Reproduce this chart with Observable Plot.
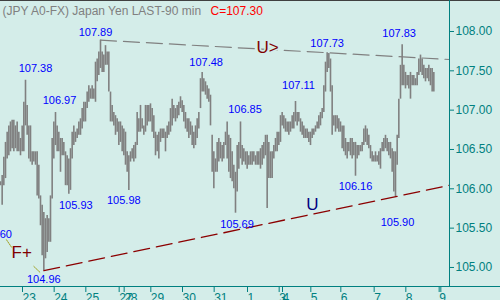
<!DOCTYPE html>
<html><head><meta charset="utf-8">
<script src="https://cdn.jsdelivr.net/npm/d3@7"></script>
<script src="https://cdn.jsdelivr.net/npm/@observablehq/plot@0.6"></script>
<style>body{margin:0;background:#d4ede9;overflow:hidden}</style>
</head><body><div id="chart"></div>
<script>
// ---- data (90-min bars, high / low) ----
const highs = [
106.09,106.17,106.40,106.59,106.72,106.80,106.85,106.87,106.87,106.80,
106.85,106.72,106.64,106.80,107.10,107.38,107.06,106.80,106.80,106.47,
106.47,106.47,106.47,106.30,105.91,105.79,105.70,105.62,105.66,105.62,
105.91,106.64,106.85,106.97,106.80,106.72,106.64,106.64,106.59,106.47,
106.42,106.38,106.51,106.72,106.80,106.72,106.76,106.85,106.89,107.02,
107.10,107.10,107.23,107.31,107.27,107.31,107.27,107.61,107.65,107.74,
107.89,107.74,107.70,107.82,107.74,107.74,107.23,107.06,106.97,106.93,
106.89,106.85,106.85,106.80,106.76,106.72,106.47,106.42,106.47,106.51,
106.55,106.59,106.97,106.89,107.06,106.89,106.80,107.06,107.06,107.06,
107.08,107.02,106.93,106.72,106.68,106.72,106.76,106.76,106.76,106.72,
106.80,106.85,107.02,107.14,107.06,107.02,107.06,107.10,107.17,107.12,
107.06,106.97,106.89,106.89,106.85,106.80,106.72,106.80,106.89,106.97,
107.40,107.48,107.40,107.36,107.31,107.27,107.19,106.68,106.47,106.38,
106.59,106.64,106.59,106.55,106.59,
106.72,106.85,106.68,106.64,106.47,106.30,106.21,106.55,106.59,106.85,
106.55,106.51,106.47,106.47,106.42,106.47,106.47,106.47,106.42,106.47,
106.47,106.51,106.55,106.59,106.68,106.68,106.59,106.47,106.47,106.55,
106.64,106.72,106.72,106.93,106.97,106.93,106.89,106.85,106.85,106.85,
106.93,106.97,107.11,106.97,106.97,106.89,106.85,106.80,106.76,106.76,
106.72,106.72,106.76,106.76,106.80,106.85,106.93,106.97,107.02,107.31,
107.61,107.73,107.72,107.65,107.31,106.93,106.93,106.93,106.89,106.85,
106.80,106.80,106.64,106.59,106.59,106.64,106.64,106.59,106.59,106.55,
106.55,106.55,106.59,106.76,106.80,106.76,106.68,106.55,106.47,106.42,
106.47,106.42,106.47,106.51,106.59,106.64,106.68,106.64,106.59,106.59,
106.51,106.47,106.47,106.68,107.14,107.57,107.83,107.57,107.48,107.44,
107.44,107.48,107.44,107.44,107.40,107.48,107.65,107.70,107.65,107.57,
107.53,107.53,107.57,107.53,107.53,107.48
];
const lows = [
106.04,105.79,106.04,106.13,106.38,106.42,106.47,106.51,106.47,106.51,
106.47,106.47,106.42,106.47,106.47,106.80,106.68,106.38,106.34,106.30,
106.34,106.30,105.91,105.87,105.53,105.15,104.96,105.11,105.19,105.32,
105.32,105.87,106.38,106.55,106.47,106.47,106.21,106.42,106.42,106.04,
106.04,105.93,105.98,106.38,106.55,106.59,106.64,106.68,106.68,106.76,
106.85,106.85,107.02,107.10,107.14,107.14,107.14,107.10,107.36,107.44,
107.53,107.48,107.48,107.57,107.57,107.23,106.85,106.85,106.80,106.68,
106.72,106.55,106.59,106.47,106.42,106.30,106.21,105.98,106.34,106.38,
106.34,106.38,106.55,106.72,106.72,106.76,106.68,106.72,106.80,106.85,
106.85,106.72,106.64,106.42,106.47,106.38,106.59,106.64,106.64,106.47,
106.64,106.68,106.72,106.80,106.89,106.85,106.89,106.93,107.02,106.97,
106.85,106.76,106.72,106.64,106.68,106.55,106.51,106.55,106.64,106.76,
107.02,107.23,107.23,107.19,107.14,107.10,106.80,106.21,106.00,106.21,
106.21,106.34,106.38,106.34,106.38,
106.55,106.38,106.21,106.13,106.09,106.00,105.69,105.96,106.25,106.38,
106.30,106.34,106.30,106.25,106.30,106.30,106.30,106.34,106.30,106.30,
106.30,106.25,106.30,106.38,106.42,105.75,106.13,106.13,106.13,106.38,
106.47,106.47,106.55,106.59,106.80,106.76,106.72,106.72,106.68,106.72,
106.76,106.76,106.85,106.80,106.85,106.72,106.68,106.64,106.64,106.64,
106.59,106.55,106.64,106.68,106.72,106.76,106.76,106.80,106.89,106.97,
107.23,107.48,107.53,107.23,106.68,106.80,106.72,106.76,106.72,106.72,
106.51,106.47,106.42,106.38,106.47,106.42,106.38,106.42,106.16,106.38,
106.42,106.47,106.47,106.55,106.59,106.55,106.51,106.38,106.34,106.34,
106.34,106.34,106.30,106.25,106.47,106.47,106.51,106.47,106.42,106.38,
106.21,105.96,105.90,106.30,106.64,107.14,107.31,107.31,107.27,107.31,
107.27,107.14,107.31,107.31,107.31,107.31,107.44,107.48,107.44,107.40,
107.36,107.40,107.36,107.31,107.23,107.23
];
const lastClose = 107.30;
const titleText = "(JPY A0-FX) Japan Yen LAST-90 min";
const dayTickBars   = [12, 31, 50, 70, 73, 89, 108, 127, 147, 166, 168, 185, 203, 223, 242, 262, 263];
const dayTickLabels = ["23","24","25","27","28","29","30","31","1","3","4","5","6","7","8","9",""];
const priceTicks = [105, 105.5, 106, 106.5, 107, 107.5, 108];
// pivot bars that carry value labels
const pivotBars  = [15, 60, 33, 121, 144, 177, 196, 241, 26, 41, 77, 141, 213, 237];
const pivotKinds = ["high","high","high","high","high","high","high","high","low","low","low","low","low","low"];
// trend lines: [from pivot, through pivot]
const resistancePivots = [60, 196];
const supportPivots = [26, 237];

// ---- layout ----
const xMax = 269.4, yMin = 104.758, yMax = 108.394;
const labelOffsets = [[10,-8],[-5,-4],[4,-9],[4,-6],[4.5,-9],[3,-12],[0,-6],[-3,-7.5],[0,5],[7,7],[-5,6],[1.5,7],[0,6],[2,21.5]];
const BG = "#d4ede9";

const bars = highs.map((h, i) => ({i, high: h, low: lows[i]}));
const pivots = pivotBars.map((i, k) => ({i, kind: pivotKinds[k], v: pivotKinds[k] === "high" ? highs[i] : lows[i]}));
function trendFn(a, b, kind) {
  const va = kind === "high" ? highs[a] : lows[a];
  const vb = kind === "high" ? highs[b] : lows[b];
  const s = (vb - va) / (b - a);
  return x => va + s * (x - a);
}
const resF = trendFn(resistancePivots[0], resistancePivots[1], "high");
const supF = trendFn(supportPivots[0], supportPivots[1], "low");
const resLine = [resistancePivots[0], xMax].map(x => ({x, y: resF(x)}));
const supLine = [supportPivots[0], xMax].map(x => ({x, y: supF(x)}));
const leaders = [
  [{x: 3.6, y: 105.352}, {x: 6.6, y: 105.258}],
  [{x: 20.0, y: 105.013}, {x: 23.6, y: 104.940}]
];

const labelMarks = pivots.map((p, k) => Plot.text([p], {
  x: "i", y: "v", text: d => d.v.toFixed(2),
  dx: labelOffsets[k][0], dy: labelOffsets[k][1],
  lineAnchor: p.kind === "high" ? "bottom" : "top",
  fill: "#0000ff", fontSize: 11
}));

const chart = Plot.plot({
  width: 500, height: 300,
  marginLeft: 0, marginRight: 51, marginTop: 0, marginBottom: 14,
  style: {background: BG, color: "#008080", fontFamily: "'Liberation Sans', Arial, sans-serif"},
  x: {domain: [0, xMax]},
  y: {domain: [yMin, yMax]},
  marks: [
    Plot.ruleX(bars, {x: "i", y1: "low", y2: "high", stroke: "#808080", strokeWidth: 1.6}),
    Plot.line(resLine, {x: "x", y: "y", stroke: "#808080", strokeWidth: 1.2, strokeDasharray: "16,7"}),
    Plot.line(supLine, {x: "x", y: "y", stroke: "#8b0000", strokeWidth: 1.3, strokeDasharray: "16,7"}),
    ...leaders.map(l => Plot.line(l, {x: "x", y: "y", stroke: "#a0a020", strokeWidth: 1, strokeDasharray: "1.5,1"})),
    ...labelMarks,
    Plot.text([{x: 160.2}], {x: "x", y: d => resF(d.x), text: () => "U>", fill: "#800000", fontSize: 17, dy: -2, stroke: BG, strokeWidth: 3, paintOrder: "stroke"}),
    Plot.text([{x: 187.2}], {x: "x", y: d => supF(d.x), text: () => "U", fill: "#000080", fontSize: 17, dy: -4, lineAnchor: "bottom"}),
    Plot.text(["F+"], {frameAnchor: "top-left", text: d => d, dx: 11, dy: 257, lineAnchor: "bottom", textAnchor: "start", fill: "#800000", fontSize: 17}),
    Plot.text(["105.60"], {frameAnchor: "top-left", text: d => d, dx: 11.5, dy: 237, lineAnchor: "bottom", textAnchor: "end", fill: "#0000ff", fontSize: 11}),
    Plot.text([titleText], {frameAnchor: "top-left", text: d => d, dx: 2, dy: 5.5, lineAnchor: "top", textAnchor: "start", fill: "#808080", fontSize: 12}),
    Plot.text([lastClose], {frameAnchor: "top-left", text: d => "C=" + d.toFixed(2), dx: 210, dy: 5.5, lineAnchor: "top", textAnchor: "start", fill: "#ff0000", fontSize: 12}),
    Plot.ruleY([yMax], {x1: 0, x2: 300, stroke: "#404040", clip: false}),
    Plot.ruleY([yMin], {x1: 0, x2: 300, stroke: "#008080", clip: false}),
    Plot.ruleX([xMax], {stroke: "#008080"}),
    Plot.axisY(priceTicks, {anchor: "right", tickFormat: d => d.toFixed(2), tickSize: 4, tickPadding: 2, fontSize: 12}),
    Plot.axisX(dayTickBars, {anchor: "bottom", tickFormat: d => dayTickLabels[dayTickBars.indexOf(d)], tickSize: 6, tickPadding: 1, textAnchor: "start", dx: 2, fontSize: 12})
  ]
});
document.getElementById("chart").appendChild(chart);
</script>
</body></html>
